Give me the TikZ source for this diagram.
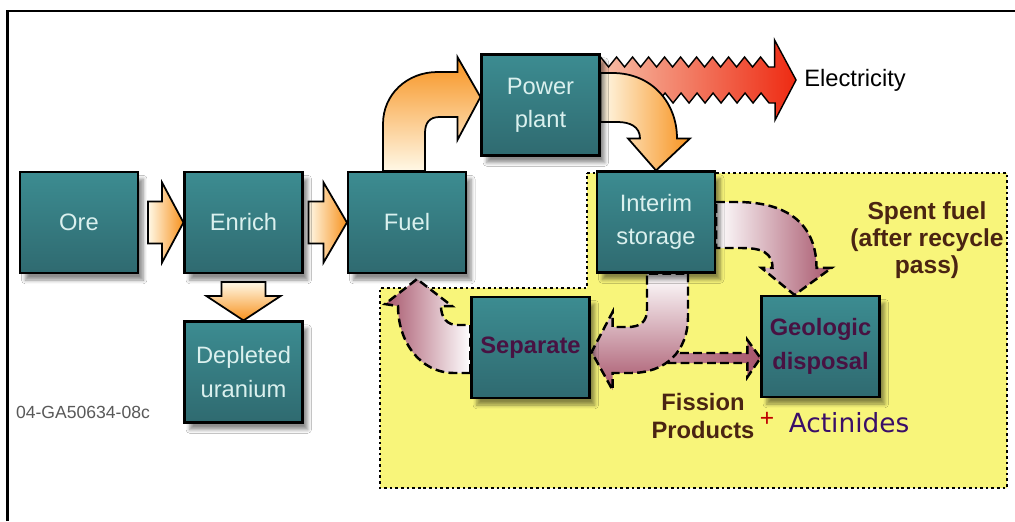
\documentclass[tikz,border=0pt]{standalone}
\usepackage{xcolor}
\usepackage{fontspec}
\setmainfont{Liberation Sans}
\newfontfamily\actfont{DejaVu Sans}
\usepackage{tikz}
\usetikzlibrary{calc,shadows.blur}

\definecolor{tealtop}{RGB}{60,140,145}
\definecolor{tealbot}{RGB}{47,106,112}
\definecolor{boxtext}{RGB}{218,240,238}
\definecolor{plum}{RGB}{72,18,66}
\definecolor{cream}{RGB}{255,248,230}
\definecolor{amber}{RGB}{247,146,30}
\definecolor{salmon}{RGB}{246,196,172}
\definecolor{hotred}{RGB}{238,42,18}
\definecolor{rose}{RGB}{168,86,108}
\definecolor{zoneyellow}{RGB}{248,245,122}
\definecolor{rust}{RGB}{74,36,18}

\pgfdeclarelayer{zone}
\pgfdeclarelayer{flow}
\pgfsetlayers{zone,flow,main}

\tikzset{
  stage/.style={draw=black, line width=1.2pt, top color=tealtop, bottom color=tealbot,
    minimum width=2.36cm, minimum height=2.02cm, align=center, text=boxtext,
    font=\fontsize{13.5}{19}\selectfont,
    blur shadow={shadow xshift=3pt, shadow yshift=-4pt, shadow blur steps=6, shadow opacity=45}},
  darkstage/.style={stage, text=plum, font=\bfseries\fontsize{13.5}{19}\selectfont},
  feed/.style={draw=black, line width=1pt, line join=miter},
  recycle/.style={draw=black, line width=1.4pt, dash pattern=on 5pt off 2.5pt, line join=miter},
  zone/.style={draw=black, fill=zoneyellow, line width=1.6pt, dash pattern=on 1.5pt off 1.7pt},
}

\begin{document}
\begin{tikzpicture}[x=0.2mm, y=-0.2mm]
    \useasboundingbox (0,0) rectangle (1015,521);

    % stages
    \node[stage] at (79,222.5) (ore) {Ore};
    \node[stage] at (243.5,222.5) (enrich) {Enrich};
    \node[stage] at (407,222.5) (fuel) {Fuel};
    \node[stage] at (540.5,105) (power) {Power\\plant};
    \node[stage] at (656,222) (interim) {Interim\\storage};
    \node[stage] at (243.5,372) (depleted) {Depleted\\uranium};
    \node[darkstage] at (530.5,347.5) (separate) {Separate};
    \node[darkstage] at (820.5,346.5) (geologic) {Geologic\\disposal};

    % labels
    \node[font=\fontsize{13.5}{16}\selectfont] at (855,80) (elec) {Electricity};
    \node[text=rust, align=center, font=\bfseries\fontsize{14}{15.5}\selectfont] at (927,240) (spent) {Spent fuel\\(after recycle\\pass)};
    \node[text=rust, align=center, font=\bfseries\fontsize{13.5}{15.5}\selectfont] at (703,416) (fission) {Fission\\Products};
    \node[text=red!75!black, font=\fontsize{14}{16}\selectfont] at (767,419) (plus) {+};
    \node[text=plum!80!blue, font=\actfont\fontsize{15}{17}\selectfont] at (849,423) (actinides) {Actinides};
    \node[text=black!65, font=\fontsize{10}{12}\selectfont] at (83,412) (tag) {04-GA50634-08c};

    \begin{pgfonlayer}{zone}
    \fill[white] (0,0) rectangle (1015,521);
    \draw[line width=1.2pt] (7.5,521) -- (7.5,11) -- (1015,11);
    \draw[zone] (587,173) -- (1007,173) -- (1007,488) -- (380,488) -- (380,288) -- (587,288) -- cycle;
    \end{pgfonlayer}

    \begin{pgfonlayer}{flow}
    % front end
    \draw[feed, left color=cream, right color=amber] ($(ore.east)+(9,-21)$) -- ++(14,0) -- ++(0,-19) -- (enrich.west)
        -- ($(ore.east)+(23,40)$) -- ++(0,-19) -- ++(-14,0) -- cycle;
    \draw[feed, left color=cream, right color=amber] ($(enrich.east)+(5,-21)$) -- ++(15,0) -- ++(0,-19) -- (fuel.west)
        -- ($(enrich.east)+(20,40)$) -- ++(0,-19) -- ++(-15,0) -- cycle;
    \draw[feed, top color=cream, bottom color=amber] ($(enrich.south)+(-22,8)$) -- ++(0,14) -- ++(-15,0) -- (depleted.north)
        -- ($(enrich.south)+(37,22)$) -- ++(-15,0) -- ++(0,-14) -- cycle;
    \draw[feed, top color=amber, bottom color=cream] ($(fuel.north)+(-24,0)$) -- ++(0,-47)
        .. controls +(0,-30) and +(-30,0) .. ($(power.west)+(-43,-33)$) -- ($(power.west)+(-23,-33)$)
        -- ++(0,-15) -- ($(power.west)+(0,-8)$) -- ($(power.west)+(-23,35)$) -- ++(0,-23) -- ++(-18,0)
        .. controls +(-10,0) and +(0,-10) .. ($(fuel.north)+(18,-38)$) -- ($(fuel.north)+(18,0)$) -- cycle;

    % electricity
    \draw[line width=0.8pt, left color=salmon, right color=hotred] ($(power.east)+(-8,-38)$)
        \foreach \k in {1,...,11} { -- ++(8,-10) -- ++(8,10) } -- ++(6,0) -- ++(0,-27)
        -- ($(elec.west)+(-2,0)$) -- ($(elec.west)+(-23,40)$) -- ++(0,-17) -- ++(-6,0)
        \foreach \k in {1,...,11} { -- ++(-8,-10) -- ++(-8,10) } -- cycle;

    \draw[feed, left color=cream, right color=amber] ($(power.east)+(0,-32)$) -- ++(12,0)
        .. controls +(40,0) and +(0,-35) .. ($(interim.north)+(21,-32)$) -- ++(13,0) -- (interim.north)
        -- ($(interim.north)+(-28,-32)$) -- ++(12,0)
        .. controls +(0,-12) and +(12,0) .. ($(power.east)+(17,17)$) -- ($(power.east)+(0,17)$) -- cycle;

    % back end
    \draw[recycle, left color=white, right color=rose] ($(interim.east)+(0,-20)$) -- ++(21,0)
        .. controls +(55,0) and +(0,-40) .. ($(geologic.north)+(-4,-27)$) -- ++(15,0)
        -- ($(geologic.north)+(-26,0)$) -- ($(geologic.north)+(-59,-27)$) -- ++(11,0)
        .. controls +(0,-15) and +(20,0) .. ($(interim.east)+(26,26)$) -- ($(interim.east)+(0,26)$) -- cycle;
    \draw[recycle, left color=rose!60, right color=rose] ($(geologic.west)+(-120,6.5)$) -- ($(geologic.west)+(-13,6.5)$)
        -- ++(0,-13) -- ($(geologic.west)+(0,11.5)$) -- ($(geologic.west)+(-13,30.5)$) -- ++(0,-14)
        -- ($(geologic.west)+(-120,16.5)$) -- cycle;
    \draw[recycle, top color=white, bottom color=rose] ($(interim.south)+(32,0)$) -- ++(0,43)
        .. controls +(0,35) and +(35,0) .. ($(separate.east)+(40,25.5)$) -- ($(separate.east)+(22,25.5)$)
        -- ++(0,17) -- ($(separate.east)+(1,4.5)$) -- ($(separate.east)+(22,-35.5)$) -- ++(0,15) -- ++(15,0)
        .. controls +(13,0) and +(0,12) .. ($(interim.south)+(-9,36)$) -- ($(interim.south)+(-9,0)$) -- cycle;
    \draw[recycle, left color=rose, right color=white] ($(separate.west)+(0,25.5)$) -- ++(-16,0)
        .. controls +(-35,0) and +(0,35) .. ($(fuel.south)+(-9,32)$) -- ($(fuel.south)+(-22,30)$)
        -- ($(fuel.south)+(10,5)$) -- ($(fuel.south)+(45,32)$) -- ($(fuel.south)+(34,32)$)
        .. controls +(0,12) and +(-10,0) .. ($(separate.west)+(-13,-22.5)$) -- ($(separate.west)+(0,-22.5)$) -- cycle;
    \end{pgfonlayer}
\end{tikzpicture}
\end{document}
